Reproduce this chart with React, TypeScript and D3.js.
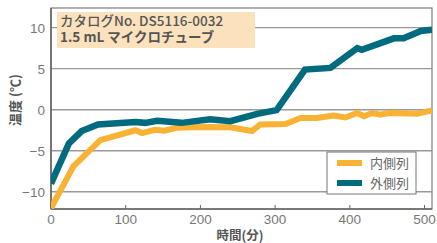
import React from 'react';
import * as d3 from 'd3';

const W = 437;
const H = 243;

// 外側列 (outer row)
const outerTimes = [0, 24, 41, 63, 113, 126, 142, 175, 213, 240, 276, 302, 340, 374, 410, 416, 459, 472, 495, 510];
const outerTemps = [-9, -4.1, -2.6, -1.8, -1.5, -1.6, -1.35, -1.6, -1.15, -1.4, -0.5, -0.05, 4.9, 5.1, 7.5, 7.3, 8.7, 8.7, 9.6, 9.75];

// 内側列 (inner row)
const innerTimes = [0, 30, 66, 113, 122, 139, 152, 168, 200, 240, 269, 280, 314, 334, 356, 378, 394, 410, 419, 430, 441, 452, 490, 510];
const innerTemps = [-12, -6.9, -3.7, -2.5, -2.85, -2.45, -2.55, -2.2, -2.1, -2.15, -2.6, -1.8, -1.75, -1.0, -1.0, -0.7, -0.95, -0.4, -0.8, -0.4, -0.6, -0.4, -0.5, -0.1];

const xTicks = [0, 100, 200, 300, 400, 500];
const yTicks = [-10, -5, 0, 5, 10];

const ORANGE = '#f9b233';
const TEAL = '#006b7e';
const GREY = '#666';

const margin = { left: 51, right: 5, top: 8, bottom: 34 };

const App: React.FC = () => {
  const x = d3.scaleLinear().domain([0, 510]).range([margin.left, W - margin.right]);
  const y = d3.scaleLinear().domain([-12.1, 12.4]).range([H - margin.bottom, margin.top]);

  const line = d3.line<[number, number]>()
    .x(d => x(d[0]))
    .y(d => y(d[1]));

  const outer = line(outerTimes.map((t, i) => [t, outerTemps[i]]));
  const inner = line(innerTimes.map((t, i) => [t, innerTemps[i]]));

  const x0 = x.range()[0], x1 = x.range()[1];
  const y0 = y.range()[0], y1 = y.range()[1];
  const font = '"Liberation Sans", Arial, sans-serif';
  const jp = '"Noto Sans CJK JP", sans-serif';

  return (
    <svg width={W} height={H} style={{ position: 'absolute', left: 0, top: 0, background: '#fff' }}>
      <defs>
        <clipPath id="plot">
          <rect x={x0} y={y1} width={x1 - x0} height={y0 - y1} />
        </clipPath>
      </defs>

      {/* grid */}
      {yTicks.map(t => (
        <line key={'g' + t} x1={x0} x2={x1} y1={y(t)} y2={y(t)} stroke="#9a9a9a" strokeWidth={1.3} />
      ))}

      {/* frame */}
      <rect x={x0} y={y1} width={x1 - x0} height={y0 - y1} fill="none" stroke="#888" strokeWidth={1.3} />
      <line x1={x0} x2={x0} y1={y1} y2={y0} stroke={GREY} strokeWidth={1.6} />
      <line x1={x0} x2={x1} y1={y0} y2={y0} stroke={GREY} strokeWidth={1.6} />

      {/* ticks */}
      {xTicks.map(t => (
        <g key={'x' + t}>
          <line x1={x(t)} x2={x(t)} y1={y0} y2={y0 - 4} stroke={GREY} strokeWidth={1} />
          <text x={x(t)} y={y0 + 15} textAnchor="middle" fontSize={13.5} fill="#777" fontFamily={font}>{t}</text>
        </g>
      ))}
      {yTicks.map(t => (
        <text key={'y' + t} x={x0 - 6} y={y(t) + 5} textAnchor="end" fontSize={13.5} fill="#777" fontFamily={font}>
          {t < 0 ? '\u2212' + Math.abs(t) : t}
        </text>
      ))}

      {/* series */}
      <g clipPath="url(#plot)">
        <path d={inner ?? ''} fill="none" stroke={ORANGE} strokeWidth={6} strokeLinejoin="miter" />
        <path d={outer ?? ''} fill="none" stroke={TEAL} strokeWidth={6.5} strokeLinejoin="miter" />
      </g>

      {/* title box */}
      <rect x={57} y={12} width={198} height={36} fill="#fbe2bd" />
      <text x={60} y={25.5} fontSize={13.5} fill="#555" fontFamily={jp} fontWeight={500}>カタログNo. DS5116-0032</text>
      <text x={60} y={42} fontSize={13.5} fill="#555" fontFamily={jp} fontWeight={700}>1.5 mL マイクロチューブ</text>

      {/* legend */}
      <rect x={327} y={152} width={89} height={42} fill="#fff" stroke="#777" strokeWidth={1} />
      <line x1={337} x2={362} y1={163} y2={163} stroke={ORANGE} strokeWidth={6} />
      <text x={370} y={168} fontSize={13} fill={GREY} fontFamily={jp}>内側列</text>
      <line x1={337} x2={362} y1={183} y2={183} stroke={TEAL} strokeWidth={6} />
      <text x={370} y={188} fontSize={13} fill={GREY} fontFamily={jp}>外側列</text>

      {/* axis titles */}
      <text x={240} y={240} textAnchor="middle" fontSize={12.5} fontWeight={700} fill="#555" fontFamily={jp}>時間(分)</text>
      <text transform="translate(20,100) rotate(-90)" textAnchor="middle" fontSize={13} fontWeight={700} fill="#555" fontFamily={jp}>温度 (℃)</text>
    </svg>
  );
};

export default App;
